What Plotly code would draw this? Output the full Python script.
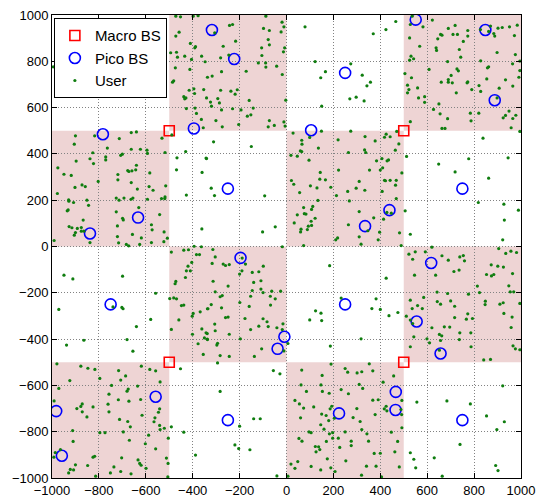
import plotly.graph_objects as go

# ---------------- data ----------------
macro_x = [-500, 500, -500, 500]
macro_y = [500, 500, -500, -500]

pico_x = [-318, -223, 250, 551, 848, 888, -783, -395, 105, -250, 750, -633, -838, 439, 335,
          -196, 617, -750, 250, 555, -9, -38, 657, -982, -958, -558, -250, 224, 466, 465, 750]
pico_y = [935, 810, 750, 980, 935, 632, 485, 510, 502, 250, 250, 125, 56, 157, 88,
          -49, -71, -250, -250, -324, -390, -442, -462, -711, -904, -649, -750, -721, -628, -706, -750]

# hotspot squares (lower-left corner, side length)
hotspot_x0 = [-500, 500, -1000, 0, -500, 500, -1000, 0]
hotspot_y0 = [500, 500, 0, 0, -500, -500, -1000, -1000]
hotspot_side = 500

user_points = [
    (-995, 776), (-541, 956), (-633, 687),
    (-472, 995), (-452, 992), (-398, 995), (-377, 997), (-472, 909), (-458, 926), (-410, 877), (-391, 858),
    (-388, 863), (-494, 837), (-469, 839), (-465, 818), (-434, 822), (-405, 808), (-362, 822), (-474, 772),
    (-412, 765), (-486, 710), (-481, 716), (-415, 675), (-438, 647), (-434, 638), (-429, 642), (-395, 681),
    (-392, 661), (-353, 678), (-427, 596), (-390, 598), (-384, 575), (-363, 549), (-355, 513),
    (-88, 995), (-306, 923), (-243, 955), (-230, 959), (-270, 865), (-217, 887), (-281, 815), (-246, 827),
    (-347, 798), (-337, 731), (-317, 736), (-277, 755), (-172, 757), (-120, 793), (-89, 793), (-88, 775),
    (-98, 942), (-73, 933), (-78, 894), (-73, 871), (-106, 858), (-105, 825), (-19, 969), (-11, 949),
    (-23, 927), (-8, 858), (-13, 841), (-42, 779), (-18, 743), (-281, 675), (-237, 671), (-219, 658),
    (-210, 677), (-341, 642), (-293, 639), (-286, 620), (-324, 624), (-320, 606), (-277, 590), (-230, 595),
    (-194, 590), (-159, 631), (-142, 598), (-167, 563), (-152, 569), (-301, 544), (-274, 517), (-204, 527),
    (-78, 517), (-73, 544), (-52, 523), (-11, 538), (-6, 520), (-3, 632),
    (79, 949), (122, 799), (166, 755), (146, 729), (274, 789), (270, 638), (297, 645), (150, 606),
    (466, 972), (370, 919), (424, 937), (323, 740), (358, 710), (343, 694), (331, 629),
    (536, 995), (528, 959), (582, 949), (622, 978), (690, 942), (719, 955), (657, 916), (663, 913),
    (710, 916), (729, 916), (773, 933), (773, 909), (645, 897), (525, 901), (754, 886), (568, 865),
    (638, 858), (640, 847), (737, 851), (827, 937), (862, 929), (870, 952), (884, 920), (888, 909),
    (902, 943), (920, 946), (951, 949), (984, 956), (972, 911), (898, 838), (976, 829), (531, 822),
    (525, 805), (542, 811), (743, 818), (608, 765), (687, 799), (828, 802), (727, 767), (733, 759),
    (862, 776), (857, 772), (964, 789), (995, 801), (995, 760), (505, 747), (533, 729), (702, 739),
    (690, 721), (690, 710), (707, 707), (660, 710), (773, 711), (770, 707), (854, 724), (934, 720),
    (991, 731), (516, 697), (522, 678), (516, 664), (559, 685), (790, 678), (821, 695), (828, 670),
    (724, 664), (907, 684), (965, 693), (563, 642), (589, 647), (589, 623), (650, 616), (898, 642),
    (627, 592), (655, 573), (687, 552), (784, 576), (820, 576), (787, 543), (528, 539), (934, 566),
    (924, 556), (965, 553), (978, 567), (949, 585), (663, 510), (676, 510), (958, 513),
    (-900, 478), (-818, 478), (-662, 492), (-640, 495), (-905, 442), (-713, 466), (-826, 405), (-764, 425),
    (-662, 420), (-623, 420), (-595, 416), (-593, 402), (-531, 468), (-518, 406), (-771, 387), (-771, 374),
    (-707, 394), (-700, 399), (-838, 379), (-897, 369), (-823, 358), (-640, 351), (-643, 331), (-659, 327),
    (-672, 324), (-677, 328), (-975, 340), (-949, 312), (-918, 307), (-719, 311), (-719, 288), (-583, 318),
    (-803, 281), (-662, 276), (-515, 262), (-902, 255), (-872, 266), (-858, 259), (-636, 248), (-586, 259),
    (-569, 243), (-977, 229), (-929, 202), (-928, 196), (-908, 190), (-851, 200), (-844, 178), (-726, 209),
    (-714, 200), (-693, 209), (-663, 204), (-655, 209), (-593, 204), (-533, 207), (-518, 214), (-519, 207),
    (-630, 168), (-935, 154), (-931, 158), (-726, 150), (-699, 122), (-696, 115), (-867, 114), (-541, 138),
    (-721, 89), (-576, 94), (-573, 72), (-927, 86), (-915, 81), (-892, 78), (-875, 82), (-900, 60),
    (-905, 49), (-875, 66), (-864, 66), (-522, 63), (-508, 36), (-721, 43), (-657, 52), (-619, 37),
    (-991, 26), (-838, 17), (-716, 16), (-683, 9), (-673, 3), (-626, 9), (-576, 17), (-523, 21),
    (-489, 482), (-467, 383), (-430, 410), (-469, 331), (-360, 320), (-427, 222), (-343, 382), (-361, 76),
    (-311, 452), (-150, 432), (-341, 380), (-321, 252), (-307, 220), (-93, 219), (-48, 85), (-102, 63),
    (28, 490), (149, 498), (274, 498), (65, 459), (66, 442), (99, 471), (59, 413), (65, 410),
    (19, 394), (46, 390), (136, 425), (220, 461), (264, 406), (96, 373), (222, 330), (144, 320),
    (142, 291), (166, 288), (21, 285), (31, 269), (102, 262), (130, 253), (189, 256), (56, 233),
    (261, 238), (297, 252), (310, 281), (213, 220), (268, 197), (134, 199), (112, 173), (107, 160),
    (83, 140), (76, 142), (73, 168), (46, 137), (122, 122), (105, 109), (33, 102), (93, 88),
    (107, 91), (62, 75), (60, 63), (89, 73), (264, 94), (310, 151), (310, 42), (218, 37), (210, 29),
    (335, 475), (378, 456), (425, 485), (418, 472), (442, 474), (470, 497), (333, 417), (338, 406),
    (479, 443), (464, 416), (407, 380), (435, 374), (429, 370), (384, 370), (354, 330), (410, 340),
    (400, 330), (492, 318), (422, 284), (442, 286), (418, 286), (468, 286), (465, 265), (334, 243),
    (408, 238), (468, 207), (428, 147), (447, 144), (414, 118), (372, 124), (506, 154), (347, 68),
    (397, 62), (482, 59), (391, 29),
    (995, 497), (838, 468), (512, 389), (649, 356), (777, 379), (719, 322), (945, 383), (862, 295),
    (818, 190), (927, 183), (989, 157), (929, 114), (528, 53), (922, 29),
    (-949, -124), (-911, -140), (-699, -128), (-971, -272), (-702, -263), (-697, -269), (-740, -261),
    (-640, -346), (-579, -315), (-558, -202), (-864, -405), (-680, -402), (-938, -426), (-655, -452),
    (-394, 1), (-363, -1), (-491, -24), (-438, -16), (-418, -14), (-384, -35), (-371, -35), (-404, -69),
    (-420, -85), (-427, -105), (-410, -105), (-431, -134), (-472, -151), (-475, -161), (-498, -225),
    (-481, -222), (-469, -226), (-448, -255), (-438, -253), (-335, -269), (-398, -289), (-402, -301),
    (-368, -282), (-459, -317), (-491, -358), (-401, -379), (-361, -356), (-343, -373), (-350, -395),
    (-337, -402), (-377, -420), (-355, -466),
    (-314, -13), (-18, -1), (-304, -45), (-317, -73), (-270, -76), (-260, -82), (-244, -78), (-189, -50),
    (-175, -76), (-200, -119), (-190, -105), (-146, -112), (-118, -109), (-99, -85), (-313, -150),
    (-249, -171), (-140, -155), (-109, -148), (-304, -196), (-146, -190), (-109, -184), (-100, -199),
    (-63, -193), (-25, -193), (-283, -217), (-274, -212), (-153, -215), (-69, -215), (-48, -226),
    (-321, -251), (-337, -269), (-277, -265), (-159, -259), (-68, -253), (-199, -242), (-260, -307),
    (-249, -305), (-177, -311), (-100, -312), (-83, -325), (-78, -346), (-15, -334), (-118, -344),
    (-306, -335), (-304, -364), (-153, -359), (-41, -351), (-18, -359), (-338, -376), (-244, -379),
    (-197, -399), (-338, -400), (-294, -418), (-297, -426), (-106, -442), (-283, -471), (-244, -475),
    (-137, -475), (-11, -451), (6, -419),
    (73, 4), (184, -83), (233, -223), (124, -278), (147, -288), (99, -317), (150, -320), (187, -430),
    (425, -137), (382, -226), (364, -268), (400, -272), (437, -299), (475, -285), (318, -399), (489, 4), (318, 10),
    (549, -23), (538, -55), (522, -33), (592, -23), (620, -3), (663, -40), (690, -59), (739, -45),
    (754, -39), (759, -62), (736, -102), (714, -108), (636, -124), (546, -124), (873, -79), (905, -9),
    (935, -30), (957, -20), (981, -26), (901, -85), (925, -89), (964, -117), (853, -121), (874, -127),
    (884, -121), (814, -171), (823, -199), (776, -206), (948, -170), (954, -196), (969, -196), (642, -197),
    (687, -203), (585, -220), (528, -232), (643, -238), (657, -249), (559, -255), (579, -268), (536, -268),
    (700, -235), (717, -258), (848, -236), (847, -251), (910, -249), (924, -243), (995, -246), (927, -289),
    (773, -291), (717, -307), (767, -314), (793, -311), (962, -305), (511, -301), (528, -318), (538, -333),
    (620, -351), (673, -347), (696, -348), (739, -373), (786, -373), (652, -380), (662, -386), (958, -350),
    (543, -390), (599, -399), (737, -402), (610, -416), (657, -406), (528, -433), (787, -433), (966, -429),
    (976, -442), (995, -446), (652, -448),
    (-979, -507), (-877, -517), (-817, -531), (-847, -526), (-716, -536), (-686, -559), (-619, -517),
    (-583, -531), (-558, -537), (-539, -585), (-924, -579), (-796, -570), (-746, -600), (-707, -577),
    (-675, -616), (-680, -625), (-971, -613), (-635, -603), (-757, -638), (-871, -680), (-877, -691),
    (-894, -700), (-991, -667), (-825, -693), (-761, -681), (-757, -714), (-717, -662), (-672, -668),
    (-622, -661), (-871, -714), (-851, -736), (-541, -701), (-546, -716), (-712, -747), (-677, -756),
    (-616, -729), (-561, -740), (-565, -757), (-541, -773), (-539, -791), (-521, -785), (-666, -779),
    (-912, -795), (-796, -804), (-774, -804), (-696, -801), (-588, -815), (-504, -828), (-670, -837),
    (-910, -842), (-986, -890), (-992, -910), (-964, -877), (-602, -852), (-558, -874), (-512, -914),
    (-505, -937), (-818, -906), (-825, -910), (-703, -913), (-633, -922), (-626, -937), (-620, -945),
    (-599, -958), (-900, -943), (-922, -963), (-929, -978), (-908, -965), (-848, -946), (-814, -992),
    (-736, -952), (-707, -972), (-751, -978), (-663, -982), (-506, -995),
    (-452, -528), (-491, -779), (-438, -802), (-388, -901),
    (-294, -503), (-56, -536), (-28, -550), (-283, -626), (-140, -744), (-112, -744), (-200, -776),
    (-220, -857), (-204, -873), (-156, -878), (-41, -991),
    (65, -534), (190, -508), (250, -527), (261, -543), (301, -546), (321, -541), (152, -557), (62, -598),
    (147, -598), (85, -626), (153, -626), (182, -634), (233, -618), (264, -636), (310, -596), (36, -665),
    (55, -680), (116, -693), (73, -698), (186, -701), (193, -690), (150, -724), (169, -730), (300, -700),
    (284, -739), (60, -740), (204, -742), (180, -752), (146, -770), (314, -756), (160, -789), (321, -791),
    (96, -801), (105, -804), (197, -804), (250, -801), (183, -809), (197, -828), (221, -828), (53, -829),
    (66, -841), (170, -842), (276, -841), (276, -860), (123, -864), (137, -865), (142, -877), (126, -887),
    (227, -868), (174, -917), (253, -926), (48, -929), (19, -940), (36, -958), (105, -950), (189, -956),
    (146, -965), (6, -992), (207, -972),
    (353, -507), (368, -537), (457, -559), (412, -586), (325, -613), (368, -664), (391, -662), (425, -690),
    (417, -701), (428, -710), (378, -726), (492, -665), (488, -704), (491, -726), (447, -802), (492, -783),
    (343, -809), (350, -841), (474, -842), (374, -894), (400, -893), (462, -887), (341, -949), (382, -949),
    (481, -952), (320, -988), (405, -995), (841, -490), (870, -488),
    (556, -672), (684, -667), (784, -680), (853, -732), (929, -757), (897, -791), (922, -602), (740, -855),
    (528, -891), (543, -919), (630, -913), (551, -956), (892, -946), (902, -968), (664, -992),
]
user_x = [p[0] for p in user_points]
user_y = [p[1] for p in user_points]

tick_vals = [-1000, -800, -600, -400, -200, 0, 200, 400, 600, 800, 1000]

# ---------------- figure ----------------
fig = go.Figure()

for x0, y0 in zip(hotspot_x0, hotspot_y0):
    fig.add_shape(type="rect", xref="x", yref="y", x0=x0, y0=y0,
                  x1=x0 + hotspot_side, y1=y0 + hotspot_side,
                  fillcolor="rgb(238,212,212)", line=dict(width=0), layer="below")

fig.add_trace(go.Scatter(
    x=macro_x, y=macro_y, mode="markers", name="Macro BS",
    marker=dict(symbol="square-open", size=10, color="rgb(255,0,0)", line=dict(width=1.6)),
))
fig.add_trace(go.Scatter(
    x=pico_x, y=pico_y, mode="markers", name="Pico BS",
    marker=dict(symbol="circle-open", size=11, color="rgb(0,0,255)", line=dict(width=1.6)),
))
fig.add_trace(go.Scatter(
    x=user_x, y=user_y, mode="markers", name="User",
    marker=dict(symbol="circle", size=3.2, color="rgb(15,125,15)", line=dict(width=0)),
))

axis_common = dict(
    range=[-1000, 1000], tickvals=tick_vals, showgrid=True,
    gridcolor="rgb(130,130,130)", griddash="1px,2px", gridwidth=1,
    zeroline=False, showline=True, linecolor="black", linewidth=1,
    mirror="ticks", ticks="inside", ticklen=5, tickcolor="black",
    tickfont=dict(family="Liberation Sans, Arial, sans-serif", size=13, color="black"),
    automargin=False, fixedrange=True,
)

fig.update_layout(
    width=539, height=500,
    margin=dict(l=52, r=18, t=15, b=22),
    paper_bgcolor="white", plot_bgcolor="white",
    xaxis=axis_common, yaxis=axis_common,
    showlegend=True,
    legend=dict(
        x=0.004, y=0.993, xanchor="left", yanchor="top",
        bgcolor="white", bordercolor="black", borderwidth=1,
        font=dict(family="Liberation Sans, Arial, sans-serif", size=15, color="black"),
        itemsizing="trace", tracegroupgap=0,
    ),
)

fig.write_html(
    "out.html",
    config={"displayModeBar": False},
    post_script="document.body.style.margin='0px';document.body.style.padding='0px';",
)
